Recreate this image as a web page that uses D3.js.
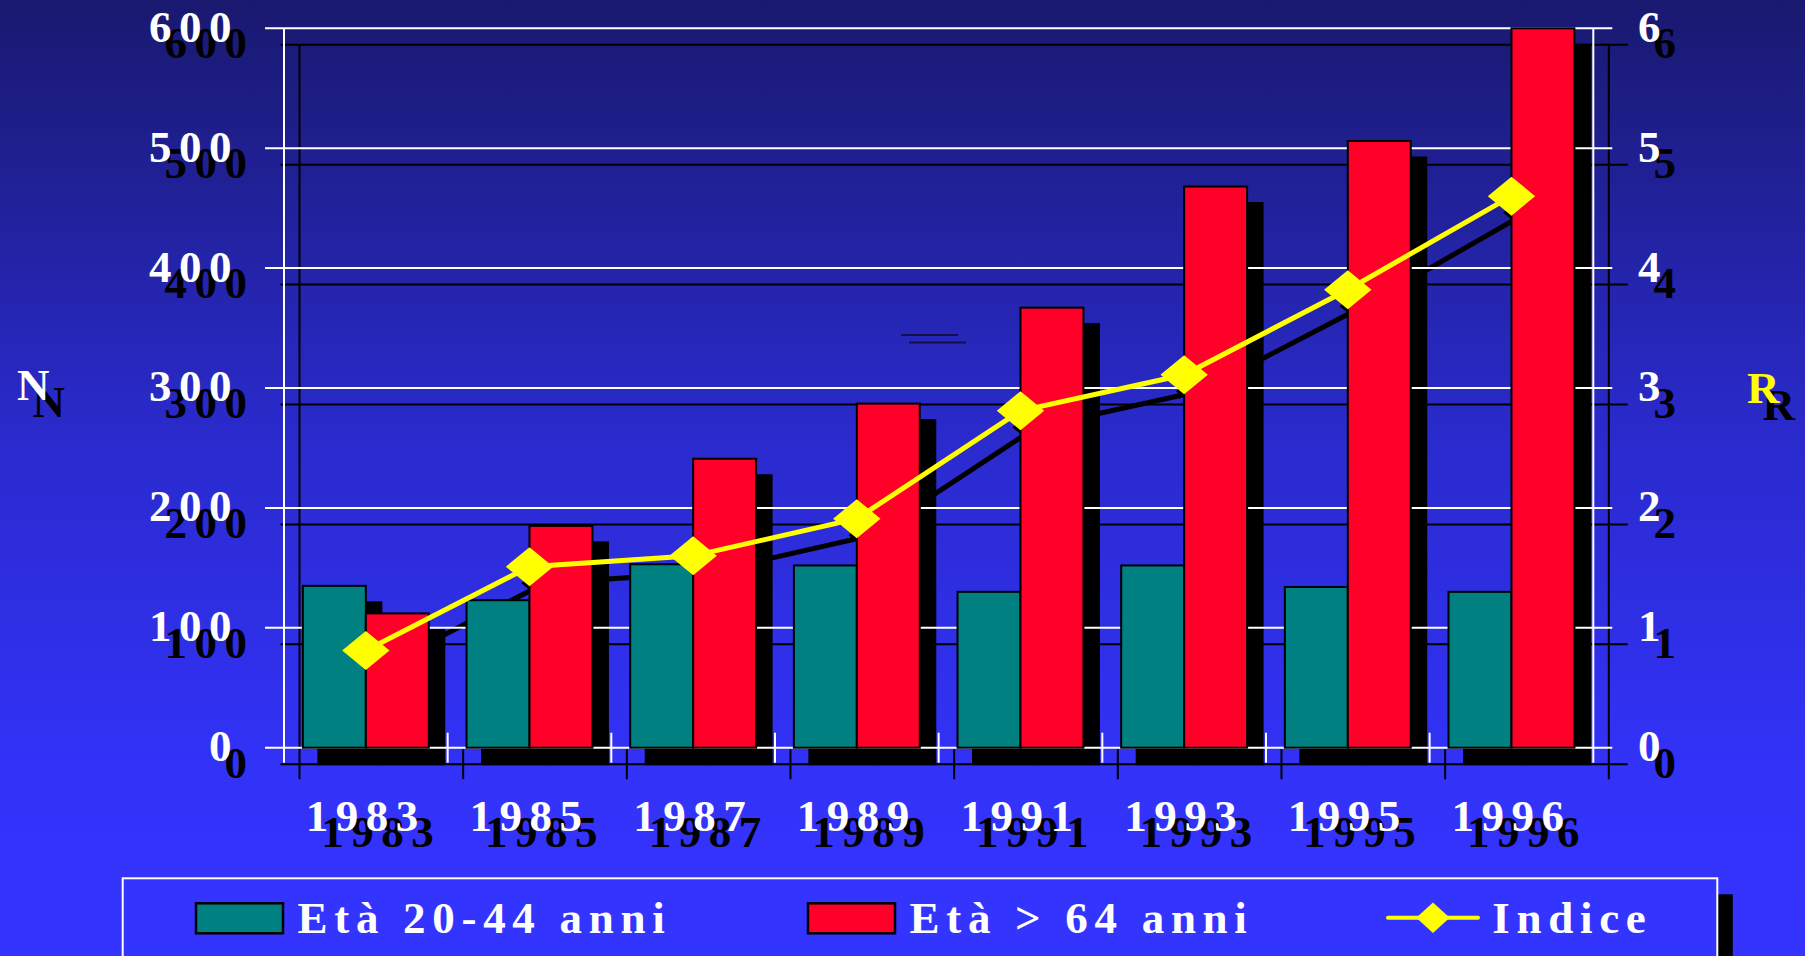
<!DOCTYPE html>
<html>
<head>
<meta charset="utf-8">
<script src="https://cdn.jsdelivr.net/npm/d3@7/dist/d3.min.js"></script>
<style>
    body { margin: 0; overflow: hidden; background: #3333ff; }
    svg text { font-family: "Liberation Serif", "Times New Roman", serif; font-weight: bold; }
</style>
</head>
<body>
<div id="chart"></div>
<script>
// values
const years = ["1983", "1985", "1987", "1989", "1991", "1993", "1995", "1996"];
const eta2044 = [135, 123, 153, 152, 130, 152, 134, 130];
const eta64 = [112, 185, 241, 287, 367, 468, 506, 600];
const indice = [0.81, 1.51, 1.60, 1.91, 2.81, 3.11, 3.82, 4.60];
const leftTicks = [0, 100, 200, 300, 400, 500, 600];
const rightTicks = [0, 1, 2, 3, 4, 5, 6];
const seriesNames = ["Età 20-44 anni", "Età > 64 anni", "Indice"];

function ShadowBarChart(parentElement) {
    let vis = this;
    vis.parentElement = parentElement;
    vis.initVis();
}

ShadowBarChart.prototype.initVis = function() {
    let vis = this;

    vis.width = 1805;
    vis.height = 956;
    vis.shadow = {dx: 15.5, dy: 16.5};

    vis.svg = d3.select("#" + vis.parentElement).append("svg")
        .attr("width", vis.width)
        .attr("height", vis.height);

    // background: dark navy on top, bright blue at the bottom
    let grad = vis.svg.append("defs").append("linearGradient")
        .attr("id", "bg").attr("x1", 0).attr("y1", 0).attr("x2", 0).attr("y2", 1);
    grad.append("stop").attr("offset", "0%").attr("stop-color", "#19196f");
    grad.append("stop").attr("offset", "45%").attr("stop-color", "#2a2acc");
    grad.append("stop").attr("offset", "80%").attr("stop-color", "#3232f8");
    grad.append("stop").attr("offset", "100%").attr("stop-color", "#3434ff");

    vis.svg.append("rect")
        .attr("width", vis.width).attr("height", vis.height)
        .attr("fill", "url(#bg)");

    // scales
    vis.x = d3.scaleBand()
        .domain(years)
        .range([284, 1593.3]);

    vis.xInner = d3.scaleBand()
        .domain([0, 1])
        .range([0, vis.x.bandwidth()])
        .paddingOuter(0.3);

    vis.y = d3.scaleLinear()
        .domain([0, 600])
        .range([747.7, 28.3]);

    vis.y2 = d3.scaleLinear()
        .domain([0, 6])
        .range([747.7, 28.3]);

    vis.rows = years.map((d, i) => ({year: d, values: [eta2044[i], eta64[i]], idx: indice[i]}));

    vis.updateVis();
}

ShadowBarChart.prototype.drawLayer = function(g, shadow) {
    let vis = this;
    let x = vis.x, y = vis.y, y2 = vis.y2;
    let x0 = x.range()[0], x1 = x.range()[1];
    let ink = shadow ? "#000" : "#fff";
    let barColors = shadow ? ["#000", "#000"] : ["#008080", "#ff0028"];

    // grid lines (they also make the ticks on both axes)
    g.selectAll(".grid")
        .data(leftTicks)
        .join("line")
        .attr("class", "grid")
        .attr("x1", x0 - 19).attr("x2", x1 + 19)
        .attr("y1", d => y(d)).attr("y2", d => y(d))
        .attr("stroke", ink).attr("stroke-width", 2);

    // frame verticals
    g.selectAll(".frame")
        .data([x0, x1])
        .join("line")
        .attr("class", "frame")
        .attr("x1", d => d).attr("x2", d => d)
        .attr("y1", y(600)).attr("y2", y(0) + 15)
        .attr("stroke", ink).attr("stroke-width", 2);

    // category separators
    g.selectAll(".sep")
        .data(years.slice(1))
        .join("line")
        .attr("class", "sep")
        .attr("x1", d => x(d)).attr("x2", d => x(d))
        .attr("y1", y(0) - 15).attr("y2", y(0) + 15)
        .attr("stroke", ink).attr("stroke-width", 2);

    // bars
    let groups = g.selectAll(".grp")
        .data(vis.rows)
        .join("g")
        .attr("class", "grp")
        .attr("transform", d => "translate(" + x(d.year) + ",0)");

    groups.selectAll("rect")
        .data(d => d.values)
        .join("rect")
        .attr("x", (d, i) => vis.xInner(i))
        .attr("width", vis.xInner.bandwidth())
        .attr("y", d => y(d))
        .attr("height", d => y(0) - y(d))
        .attr("fill", (d, i) => barColors[i])
        .attr("stroke", "#000")
        .attr("stroke-width", 2);

    // index line with diamonds
    let cx = d => x(d.year) + x.bandwidth() / 2;
    let line = d3.line()
        .x(cx)
        .y(d => y2(d.idx));

    g.append("path")
        .datum(vis.rows)
        .attr("d", line)
        .attr("fill", "none")
        .attr("stroke", shadow ? "#000" : "#ffff00")
        .attr("stroke-width", 5);

    g.selectAll(".dia")
        .data(vis.rows)
        .join("path")
        .attr("class", "dia")
        .attr("transform", d => "translate(" + cx(d) + "," + y2(d.idx) + ")")
        .attr("d", "M0,-19.5L23.7,0L0,19.5L-23.7,0Z")
        .attr("fill", shadow ? "#000" : "#ffff00");

    // tick labels
    g.selectAll(".ly")
        .data(leftTicks)
        .join("text")
        .attr("class", "ly")
        .attr("x", 239)
        .attr("y", d => y(d) + 13.4)
        .attr("text-anchor", "end")
        .attr("font-size", 45)
        .attr("letter-spacing", 7.5)
        .attr("fill", ink)
        .text(d => d);

    g.selectAll(".ry")
        .data(rightTicks)
        .join("text")
        .attr("class", "ry")
        .attr("x", 1638)
        .attr("y", d => y2(d) + 13.4)
        .attr("font-size", 45)
        .attr("fill", ink)
        .text(d => d);

    g.selectAll(".lx")
        .data(years)
        .join("text")
        .attr("class", "lx")
        .attr("x", d => x(d) + x.bandwidth() / 2)
        .attr("y", 830.7)
        .attr("text-anchor", "middle")
        .attr("font-size", 45)
        .attr("letter-spacing", 7.5)
        .attr("fill", ink)
        .text(d => d);

    // axis titles
    g.append("text")
        .attr("x", 17).attr("y", 400)
        .attr("font-size", 45)
        .attr("fill", ink)
        .text("N");

    g.append("text")
        .attr("x", 1747).attr("y", 403)
        .attr("font-size", 45)
        .attr("fill", shadow ? "#000" : "#ffff00")
        .text("R");
}

ShadowBarChart.prototype.updateVis = function() {
    let vis = this;

    // shadow copy first, then the real chart on top
    let back = vis.svg.append("g")
        .attr("transform", "translate(" + vis.shadow.dx + "," + vis.shadow.dy + ")");
    vis.drawLayer(back, true);

    // two stray dashes left on the slide
    vis.svg.selectAll(".stray")
        .data([[901, 958, 335], [909, 966, 342.5]])
        .join("line")
        .attr("class", "stray")
        .attr("x1", d => d[0]).attr("x2", d => d[1])
        .attr("y1", d => d[2]).attr("y2", d => d[2])
        .attr("stroke", "#10104a").attr("stroke-width", 2);

    let front = vis.svg.append("g");
    vis.drawLayer(front, false);

    // legend
    let leg = vis.svg.append("g");
    leg.append("rect")
        .attr("x", 122.7 + 15.5).attr("y", 878.3 + 16)
        .attr("width", 1594.6).attr("height", 120)
        .attr("fill", "#000");
    leg.append("rect")
        .attr("x", 122.7).attr("y", 878.3)
        .attr("width", 1594.6).attr("height", 120)
        .attr("fill", "#3434ff")
        .attr("stroke", "#fff").attr("stroke-width", 2);

    let legX = [196, 808, 1388];
    let items = leg.selectAll(".item")
        .data(seriesNames)
        .join("g")
        .attr("class", "item")
        .attr("transform", (d, i) => "translate(" + legX[i] + ",0)");

    items.filter((d, i) => i < 2)
        .append("rect")
        .attr("x", 0).attr("y", 903.3)
        .attr("width", 87).attr("height", 30)
        .attr("fill", (d, i) => ["#008080", "#ff0028"][i])
        .attr("stroke", "#000").attr("stroke-width", 2.5);

    let ind = items.filter((d, i) => i === 2);
    ind.append("line")
        .attr("x1", 0).attr("x2", 90)
        .attr("y1", 917.7).attr("y2", 917.7)
        .attr("stroke", "#ffff00").attr("stroke-width", 4)
        .attr("stroke-linecap", "round");
    ind.append("path")
        .attr("transform", "translate(45,917.7)")
        .attr("d", "M0,-15.3L16.7,0L0,15.3L-16.7,0Z")
        .attr("fill", "#ffff00");

    items.append("text")
        .attr("x", (d, i) => i === 2 ? 104.3 : 101.5)
        .attr("y", 933.3)
        .attr("font-size", 45)
        .attr("letter-spacing", 6.7)
        .attr("fill", "#fff")
        .text(d => d);
}

new ShadowBarChart("chart");
</script>
</body>
</html>
